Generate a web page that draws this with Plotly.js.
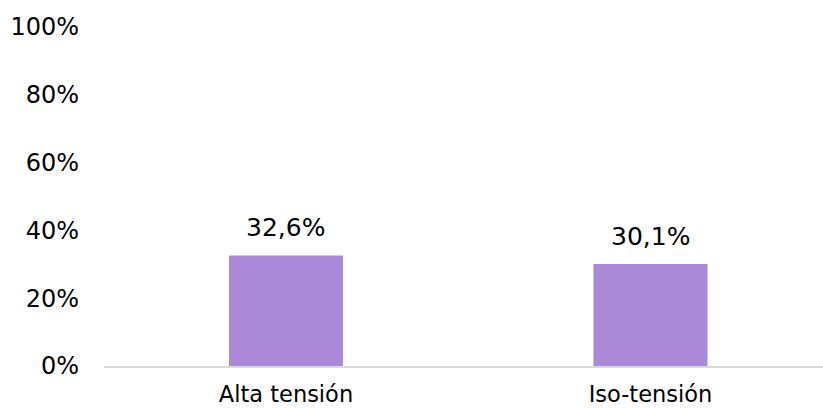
<!DOCTYPE html>
<html>
<head>
<meta charset="utf-8">
<script src="https://cdn.plot.ly/plotly-3.0.1.min.js"></script>
<style>html,body{margin:0;padding:0;background:#fff;}#chart{width:823px;height:408px;}</style>
</head>
<body>
<div id="chart"></div>
<script>
const categories = ["Alta tensión", "Iso-tensión"];
const values = [0.326, 0.301];
const tickVals = [0, 0.2, 0.4, 0.6, 0.8, 1.0];
const tickText = ["0%", "20%", "40%", "60%", "80%", "100%"];

const FONT = "DejaVu Sans, sans-serif";
const fmt = v => (v * 100).toFixed(1).replace(".", ",") + "%";

const trace = {
  type: "bar",
  x: categories,
  y: values,
  width: 0.313,
  marker: {color: "#AA89D8"},
  hoverinfo: "none"
};

const annotations = categories.map((c, i) => ({
  x: c, y: values[i], xref: "x", yref: "y",
  text: fmt(values[i]), showarrow: false,
  yanchor: "bottom", yshift: 11,
  font: {family: FONT, size: 25, color: "#000"}
}));

const layout = {
  width: 823, height: 408,
  margin: {l: 104, r: 0, t: 27, b: 42},
  paper_bgcolor: "#fff", plot_bgcolor: "#fff",
  showlegend: false,
  xaxis: {
    type: "category",
    range: [-0.4993, 1.4733],
    showgrid: false, zeroline: false,
    showline: true, linecolor: "#D9D9D9", linewidth: 1.5,
    ticks: "", ticklabelstandoff: 7,
    tickfont: {family: FONT, size: 22.5, color: "#000"}
  },
  yaxis: {
    range: [0, 1],
    tickvals: tickVals, ticktext: tickText,
    showgrid: false, zeroline: false, showline: false,
    ticks: "", ticklabelstandoff: 24,
    tickfont: {family: FONT, size: 24, color: "#000"}
  },
  annotations: annotations
};

Plotly.newPlot("chart", [trace], layout, {displayModeBar: false, staticPlot: true});
</script>
</body>
</html>
